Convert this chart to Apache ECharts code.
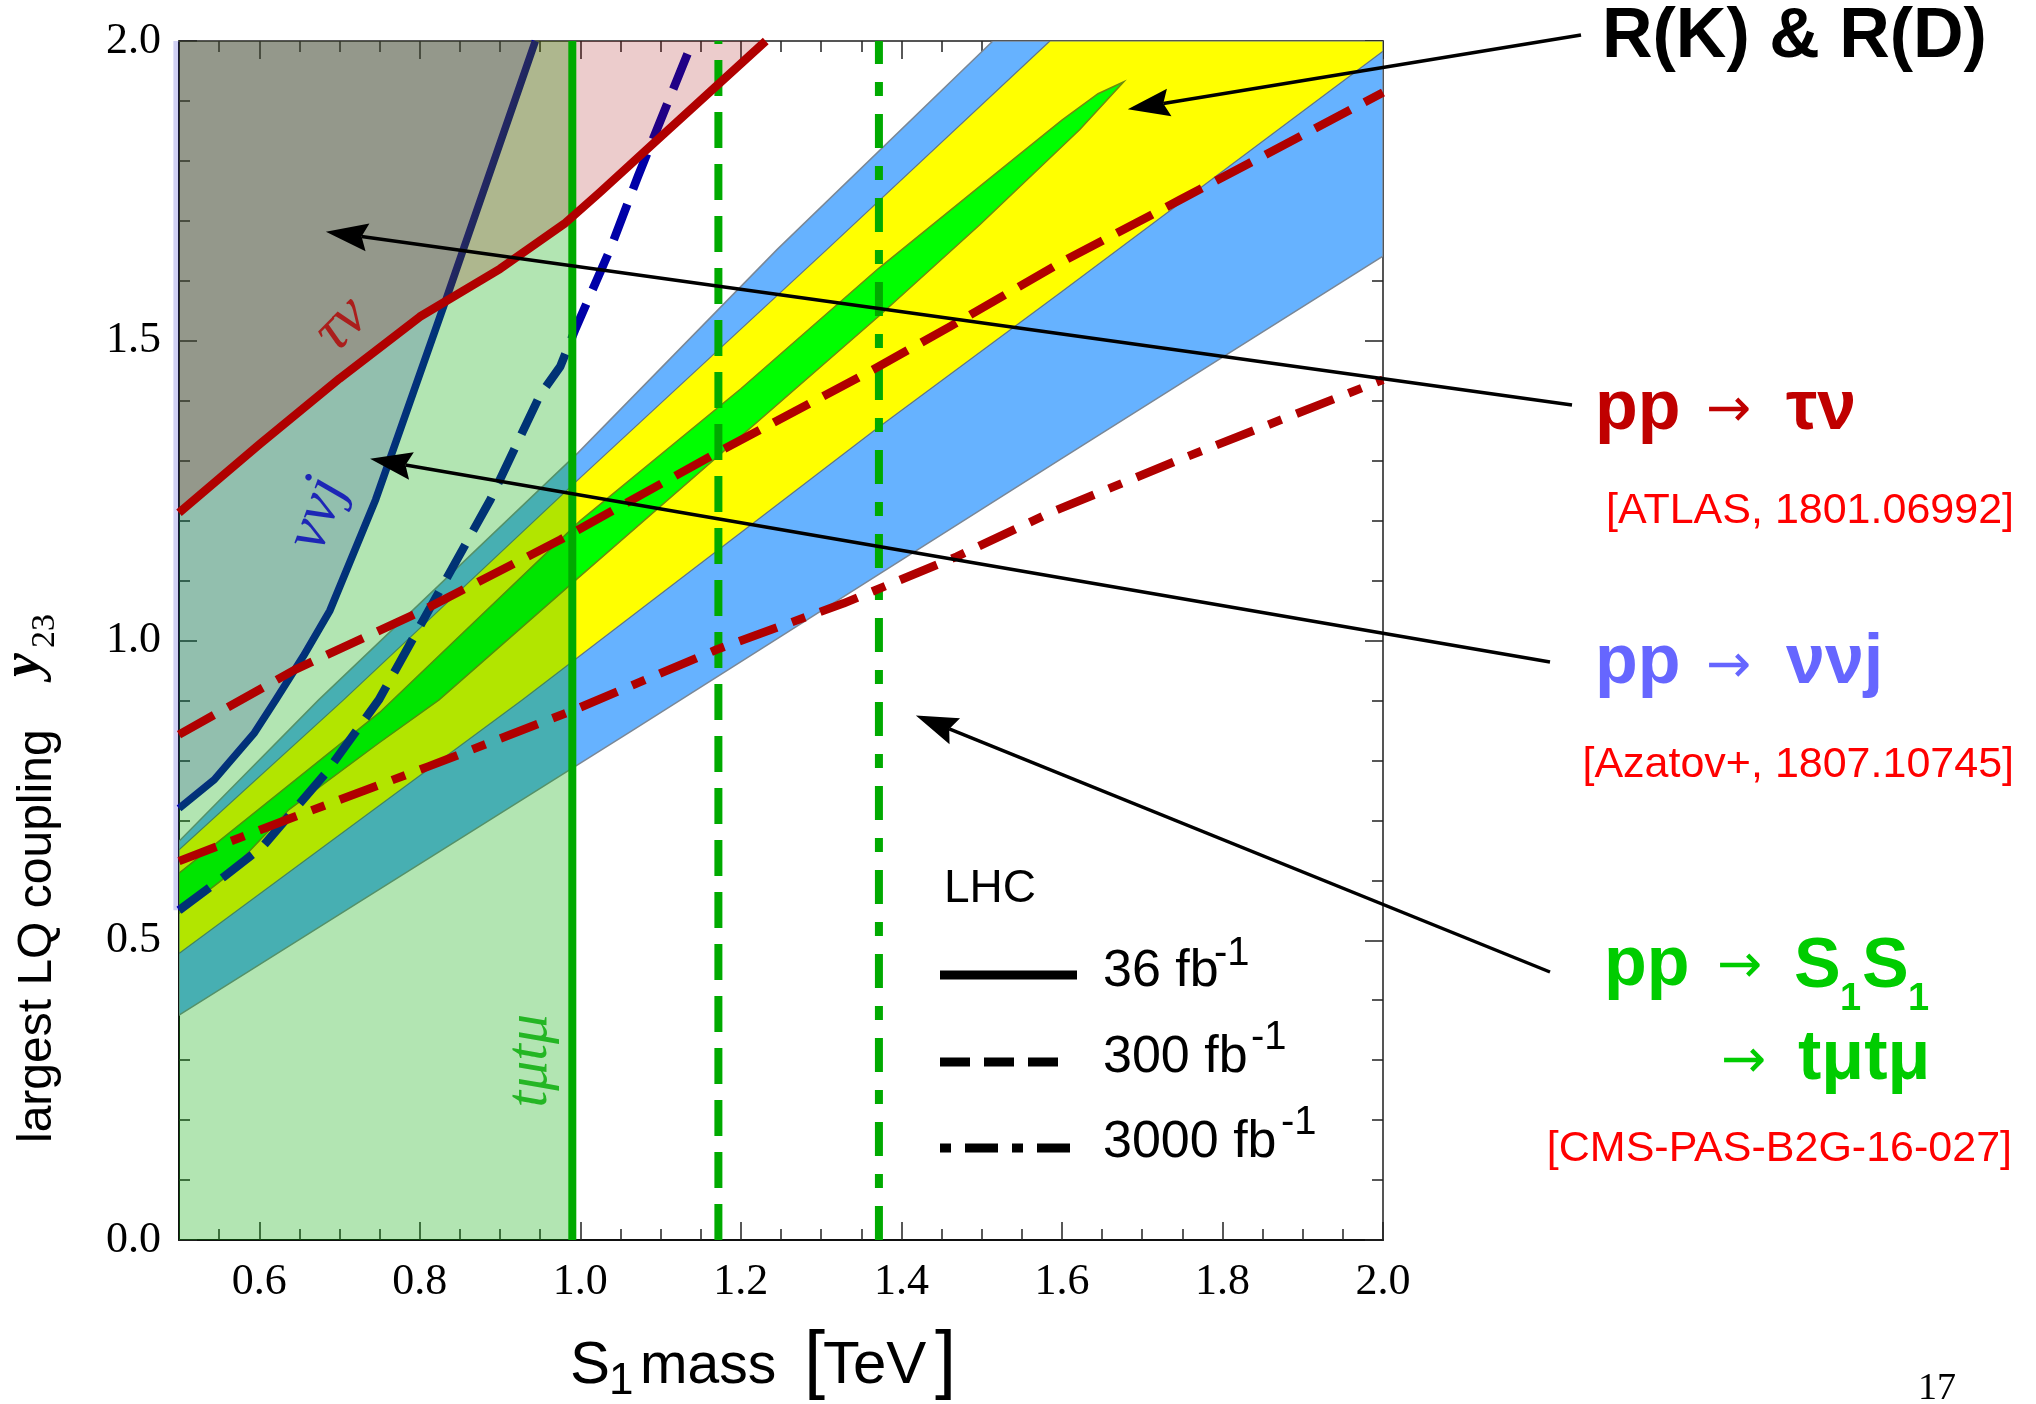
<!DOCTYPE html>
<html>
<head>
<meta charset="utf-8">
<script src="https://cdn.jsdelivr.net/npm/echarts@6/dist/echarts.min.js"></script>
<style>
  html, body { margin: 0; padding: 0; background: #fff; }
  #chart { width: 2036px; height: 1404px; }
</style>
</head>
<body>
<div id="chart"></div>
<script>
// ---- values: x = S1 mass [TeV], y = coupling y23 ----
const xTickLabels = [0.6, 0.8, 1.0, 1.2, 1.4, 1.6, 1.8, 2.0];
const yTickLabels = [0.0, 0.5, 1.0, 1.5, 2.0];

// R(K) & R(D) preferred bands (upper / lower edges)
const blueUpper = [[0.5, 0.665], [0.674, 0.901], [0.997, 1.313], [1.245, 1.652], [1.514, 2.0], [2.0, 2.0]];
const blueLower = [[0.5, 0.375], [1.066, 0.851], [1.598, 1.302], [2.0, 1.641]];
const yellowUpper = [[0.5, 0.651], [0.705, 0.901], [0.997, 1.268], [1.307, 1.652], [1.585, 2.0], [2.0, 2.0]];
const yellowLower = [[0.5, 0.478], [0.928, 0.901], [1.365, 1.349], [1.598, 1.58], [2.0, 1.983]];
const greenUpper = [[0.5, 0.612], [0.75, 0.88], [1.0, 1.2], [1.2, 1.42], [1.371, 1.62], [1.5, 1.76], [1.6, 1.868], [1.645, 1.912], [1.677, 1.932]];
const greenLower = [[0.5, 0.545], [0.554, 0.601], [0.637, 0.718], [0.749, 0.829], [0.824, 0.901], [0.997, 1.104], [1.371, 1.54], [1.498, 1.694], [1.622, 1.852], [1.677, 1.932]];

// LHC limits
const tauNu36 = [[0.5, 1.213], [0.6, 1.327], [0.7, 1.437], [0.8, 1.54], [0.9, 1.62], [0.98, 1.695], [1.024, 1.747], [1.1, 1.84], [1.231, 2.0]];
const tauNu300 = [[0.5, 0.843], [0.644, 0.951], [0.805, 1.051], [0.975, 1.168], [1.17, 1.313], [1.365, 1.452], [1.461, 1.524], [1.598, 1.63], [1.747, 1.735], [2.0, 1.914]];
const tauNu3000 = [[0.5, 0.632], [0.644, 0.706], [0.811, 0.79], [0.992, 0.884], [1.17, 0.985], [1.328, 1.062], [1.469, 1.14], [1.585, 1.213], [1.747, 1.302], [2.0, 1.435]];
const nunuj36 = [[0.5, 0.72], [0.544, 0.768], [0.594, 0.846], [0.62, 0.9], [0.655, 0.974], [0.688, 1.05], [0.745, 1.235], [0.833, 1.57], [0.944, 2.0]];
const nunuj300 = [[0.5, 0.55], [0.555, 0.605], [0.604, 0.656], [0.683, 0.779], [0.749, 0.901], [0.811, 1.05], [0.888, 1.235], [0.95, 1.41], [0.975, 1.457], [0.994, 1.52], [1.037, 1.652], [1.072, 1.775], [1.14, 2.0]];
const tmutmuMass = [0.99, 1.172, 1.372]; // 36, 300, 3000 fb^-1
const nunujEdge = [[0.493, 0.55], [0.5, 0.55], [0.5, 2.0], [0.493, 2.0]];

const SANS = 'Liberation Sans';
const SERIF = 'Liberation Serif';

const minorX = [];
for (let i = 11; i <= 39; i++) minorX.push(+(i * 0.05).toFixed(2));

function polySeries(name, pts, style, z, clip) {
  return {
    type: 'custom', name: name, z: z, silent: true, clip: clip !== false,
    coordinateSystem: 'cartesian2d',
    data: [pts[0]],
    renderItem: function (params, api) {
      return {
        type: 'polygon',
        shape: { points: pts.map(function (p) { return api.coord(p); }) },
        style: style
      };
    }
  };
}

function lineSeries(name, data, color, width, dash, z) {
  return {
    type: 'line', name: name, data: data, z: z, symbol: 'none', silent: true,
    lineStyle: { color: color, width: width, type: dash || 'solid', cap: 'butt', join: 'round' }
  };
}

function vline(x) { return [[x, 0], [x, 2]]; }

const series = [
  polySeries('blue band', blueUpper.concat(blueLower.slice().reverse()), { fill: '#66b2ff', stroke: '#7a8796', lineWidth: 1.5 }, 1),
  polySeries('yellow band', yellowUpper.concat(yellowLower.slice().reverse()), { fill: '#ffff00', stroke: '#5f7389', lineWidth: 1.2 }, 1),
  polySeries('green band', greenUpper.concat(greenLower.slice(0, -1).reverse()), { fill: '#00ff00', stroke: '#6e8a10', lineWidth: 1.5 }, 1),
  lineSeries('nunuj 36', nunuj36, '#0000a8', 7.5, 'solid', 2),
  lineSeries('nunuj 300', nunuj300, '#0000a8', 8.5, [38, 16], 2),
  polySeries('tmutmu excl', [[0.5, 0], [tmutmuMass[0], 0], [tmutmuMass[0], 2], [0.5, 2]], { fill: 'rgba(0,170,0,0.3)' }, 3),
  polySeries('nunuj excl', nunuj36.concat([[0.5, 2]]), { fill: 'rgba(20,40,160,0.2)' }, 4),
  polySeries('nunuj edge', nunujEdge, { fill: 'rgba(40,40,200,0.22)' }, 4, false),
  polySeries('taunu excl', tauNu36.concat([[0.5, 2]]), { fill: 'rgba(160,0,0,0.2)' }, 5),
  lineSeries('tmutmu 36', vline(tmutmuMass[0]), '#00aa00', 8, 'solid', 6),
  lineSeries('tmutmu 300', vline(tmutmuMass[1]), '#00aa00', 8, [36, 16], 6),
  lineSeries('tmutmu 3000', vline(tmutmuMass[2]), '#00aa00', 8, [34, 18, 14, 18], 6),
  lineSeries('taunu 36', tauNu36, '#b00000', 8.5, 'solid', 7),
  lineSeries('taunu 300', tauNu300, '#b00000', 8.5, [40, 16], 7),
  lineSeries('taunu 3000', tauNu3000, '#b00000', 8.5, [40, 16, 14, 16], 7),
  {
    type: 'scatter', z: 9, silent: true, symbolSize: 1,
    itemStyle: { color: 'rgba(0,0,0,0)' },
    label: { show: true, position: 'inside', formatter: '{b}', fontFamily: SERIF, fontStyle: 'italic' },
    data: [
      { name: 'τν', value: [0.703, 1.527], label: { rotate: 45, fontSize: 62, color: '#b00000' } },
      { name: 'ννj', value: [0.673, 1.211], label: { rotate: 70, fontSize: 62, color: '#0000b8' } },
      { name: 'tμtμ', value: [0.937, 0.299], label: { rotate: 90, fontSize: 60, color: '#00aa00' } }
    ]
  }
];

function xAxisDef(pos, ticks, len, labels, showLine) {
  return {
    type: 'value', min: 0.5, max: 2.0, position: pos, splitLine: { show: false },
    axisLine: { show: showLine, onZero: false, lineStyle: { color: pos === 'top' ? '#555' : '#111', width: 2 } },
    axisTick: { show: true, inside: true, length: len, customValues: ticks, lineStyle: { color: '#222', width: 1.5 } },
    axisLabel: labels ? {
      show: true, customValues: xTickLabels, formatter: function (v) { return v.toFixed(1); },
      fontFamily: SERIF, fontSize: 44, color: '#000', margin: 20
    } : { show: false }
  };
}

function yAxisDef(pos, labels) {
  return {
    type: 'value', min: 0, max: 2, interval: 0.5, position: pos, splitLine: { show: false },
    axisLine: { show: true, onZero: false, lineStyle: { color: pos === 'right' ? '#555' : '#111', width: 2 } },
    axisTick: { show: true, inside: true, length: 18, lineStyle: { color: '#222', width: 1.5 } },
    minorTick: { show: true, splitNumber: 5, length: 11, lineStyle: { color: '#222', width: 1.5 } },
    axisLabel: labels ? {
      show: true, formatter: function (v) { return yTickLabels.indexOf(v) >= 0 ? v.toFixed(1) : ''; },
      fontFamily: SERIF, fontSize: 44, color: '#000', margin: 18
    } : { show: false }
  };
}

const chart = echarts.init(document.getElementById('chart'), null, { renderer: 'canvas' });
chart.setOption({
  animation: false,
  backgroundColor: '#fff',
  grid: { left: 179, top: 41, width: 1204, height: 1199 },
  xAxis: [
    xAxisDef('bottom', minorX, 11, true, true),
    xAxisDef('bottom', xTickLabels, 18, false, false),
    xAxisDef('top', minorX, 11, false, true),
    xAxisDef('top', xTickLabels, 18, false, false)
  ],
  yAxis: [yAxisDef('left', true), yAxisDef('right', false)],
  series: series
});

// ---- annotations ----
function txt(text, x, base, size, o) {
  o = o || {};
  const fam = o.family || SANS;
  const k = fam === SERIF ? 0.338 : 0.347;
  return {
    type: 'text', x: x, y: base - k * size, z: 100, rotation: o.rotation || 0,
    style: {
      text: text, fontSize: size, fontFamily: fam, fontWeight: o.weight || 'normal',
      fontStyle: o.style || 'normal', fill: o.color || '#000',
      align: o.align || 'left', verticalAlign: 'middle'
    }
  };
}
function arrowText(x, cy, color) {
  return {
    type: 'text', x: x, y: cy, z: 100,
    style: { text: '→', fontSize: 54, fontFamily: 'DejaVu Sans', fill: color, align: 'left', verticalAlign: 'middle' }
  };
}
function arrow(tail, tipData) {
  const tip = chart.convertToPixel({ gridIndex: 0 }, tipData);
  const dx = tip[0] - tail[0], dy = tip[1] - tail[1], L = Math.hypot(dx, dy);
  const ux = dx / L, uy = dy / L, hl = 42, hw = 14, notch = 6;
  const bx = tip[0] - ux * hl, by = tip[1] - uy * hl;
  return [
    { type: 'line', z: 100, shape: { x1: tail[0], y1: tail[1], x2: bx + ux * notch, y2: by + uy * notch }, style: { stroke: '#000', lineWidth: 3.5 } },
    { type: 'polygon', z: 100, shape: { points: [tip, [bx - uy * hw, by + ux * hw], [bx + ux * notch, by + uy * notch], [bx + uy * hw, by - ux * hw]] }, style: { fill: '#000' } }
  ];
}

const red = '#c00000', blue = '#6666ff', green = '#00cc00', ref = '#ff0000';
const g = [];
// right-hand labels
g.push(txt('R(K) & R(D)', 1602, 62, 70, { weight: 'bold' }));
g.push(txt('pp', 1595, 434, 70, { weight: 'bold', color: red }));
g.push(arrowText(1706, 412, red));
g.push(txt('τν', 1786, 434, 70, { weight: 'bold', color: red }));
g.push(txt('[ATLAS, 1801.06992]', 2014, 526, 43, { color: ref, align: 'right' }));
g.push(txt('pp', 1595, 688, 70, { weight: 'bold', color: blue }));
g.push(arrowText(1706, 668, blue));
g.push(txt('ννj', 1786, 688, 70, { weight: 'bold', color: blue }));
g.push(txt('[Azatov+, 1807.10745]', 2014, 780, 43, { color: ref, align: 'right' }));
g.push(txt('pp', 1604, 990, 70, { weight: 'bold', color: green }));
g.push(arrowText(1717, 968, green));
g.push(txt('S', 1794, 992, 70, { weight: 'bold', color: green }));
g.push(txt('1', 1840, 1013, 38, { weight: 'bold', color: green }));
g.push(txt('S', 1862, 992, 70, { weight: 'bold', color: green }));
g.push(txt('1', 1908, 1013, 38, { weight: 'bold', color: green }));
g.push(arrowText(1721, 1063, green));
g.push(txt('tμtμ', 1798, 1084, 70, { weight: 'bold', color: green }));
g.push(txt('[CMS-PAS-B2G-16-027]', 2012, 1164, 43, { color: ref, align: 'right' }));
g.push(txt('17', 1918, 1402, 38, { family: SERIF }));

// legend inside the frame
g.push(txt('LHC', 944, 905, 46));
g.push({ type: 'line', z: 100, shape: { x1: 940, y1: 975, x2: 1077, y2: 975 }, style: { stroke: '#000', lineWidth: 9 } });
g.push({ type: 'line', z: 100, shape: { x1: 940, y1: 1062, x2: 1060, y2: 1062 }, style: { stroke: '#000', lineWidth: 9, lineDash: [30, 14] } });
g.push({ type: 'line', z: 100, shape: { x1: 940, y1: 1148, x2: 1071, y2: 1148 }, style: { stroke: '#000', lineWidth: 9, lineDash: [11, 14, 33, 14] } });
g.push(txt('36 fb', 1103, 990, 52));
g.push(txt('-1', 1214, 968, 40));
g.push(txt('300 fb', 1103, 1076, 52));
g.push(txt('-1', 1251, 1052, 40));
g.push(txt('3000 fb', 1103, 1161, 52));
g.push(txt('-1', 1281, 1137, 40));

// axis titles
g.push(txt('S', 570, 1387, 60));
g.push(txt('1', 609, 1397, 44));
g.push(txt('mass', 640, 1387, 57));
g.push(txt('[', 804, 1389, 76));
g.push(txt('TeV', 823, 1387, 60));
g.push(txt(']', 935, 1389, 76));
g.push({ type: 'text', x: 38, y: 1143, z: 100, rotation: Math.PI / 2,
  style: { text: 'largest LQ coupling', fontSize: 48, fontFamily: SANS, fill: '#000', align: 'left', verticalAlign: 'middle' } });
g.push({ type: 'text', x: 25, y: 677, z: 100, rotation: Math.PI / 2,
  style: { text: 'y', fontSize: 54, fontFamily: SERIF, fontWeight: 'bold', fontStyle: 'italic', fill: '#000', align: 'left', verticalAlign: 'middle' } });
g.push({ type: 'text', x: 45, y: 648, z: 100, rotation: Math.PI / 2,
  style: { text: '23', fontSize: 34, fontFamily: SERIF, fill: '#000', align: 'left', verticalAlign: 'middle' } });

// arrows from labels into the plot
Array.prototype.push.apply(g, arrow([1581, 35], [1.682, 1.886]));
Array.prototype.push.apply(g, arrow([1572, 405], [0.683, 1.682]));
Array.prototype.push.apply(g, arrow([1550, 662], [0.738, 1.303]));
Array.prototype.push.apply(g, arrow([1550, 972], [1.418, 0.875]));

chart.setOption({ graphic: { elements: g } });
window.addEventListener('resize', function () { chart.resize(); });
</script>
</body>
</html>
